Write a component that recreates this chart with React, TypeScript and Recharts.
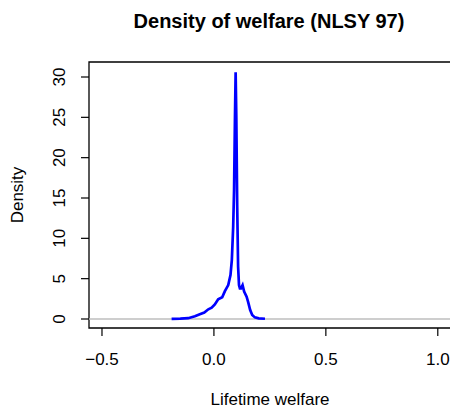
import React from 'react';
import {
  LineChart,
  Line,
  XAxis,
  YAxis,
  ReferenceLine,
  ReferenceArea,
} from 'recharts';

// kernel density estimate of lifetime welfare
const welfare = [
  -0.189, -0.15, -0.115, -0.085, -0.063, -0.043, -0.025, -0.01, 0.004, 0.019,
  0.037, 0.049, 0.064, 0.074, 0.08, 0.086, 0.09, 0.094, 0.097, 0.1, 0.104,
  0.108, 0.112, 0.116, 0.121, 0.128, 0.135, 0.146, 0.153, 0.162, 0.171, 0.183,
  0.2, 0.228,
];
const density = [
  0.02, 0.05, 0.1, 0.35, 0.6, 0.8, 1.2, 1.4, 1.8, 2.45,
  2.7, 3.45, 4.2, 5.45, 7.3, 11.4, 16, 25, 30.6, 25, 14,
  6.5, 4.2, 3.8, 3.8, 4.2, 3.4, 2.76, 2.1, 1.1, 0.5, 0.2,
  0.08, 0.03,
];

const xTicks = [-0.5, 0, 0.5, 1];
const yTicks = [0, 5, 10, 15, 20, 25, 30];
const xDomain: [number, number] = [-0.558, 1.059];
const yDomain: [number, number] = [-1.116, 31.86];

const data = welfare.map((x, i) => ({ x, d: density[i] }));

const font = '"Liberation Sans", Arial, sans-serif';

const fmt = (v: number) => (v < 0 ? '\u2212' + Math.abs(v).toFixed(1) : v.toFixed(1));

function XTick({ x, y, payload }: any) {
  return (
    <text x={x} y={y + 27} textAnchor="middle" fontSize={17} fontFamily={font} fill="#000">
      {fmt(payload.value)}
    </text>
  );
}

function YTick({ y, payload }: any) {
  return (
    <text
      transform={`translate(65, ${y}) rotate(-90)`}
      textAnchor="middle"
      fontSize={17}
      fontFamily={font}
      fill="#000"
    >
      {payload.value}
    </text>
  );
}

export default function App() {
  return (
    <div
      style={{
        position: 'absolute',
        left: 0,
        top: 0,
        width: 450,
        height: 408,
        overflow: 'hidden',
        background: '#fff',
      }}
    >
      <LineChart width={460} height={408} data={data} margin={{ top: 62, right: 9, bottom: 0, left: 0 }}>
        <XAxis
          dataKey="x"
          type="number"
          domain={xDomain}
          allowDataOverflow
          ticks={xTicks}
          height={80}
          axisLine={false}
          tickSize={8}
          tickLine={{ stroke: '#000', strokeWidth: 1.2 }}
          tick={<XTick />}
        />
        <YAxis
          type="number"
          domain={yDomain}
          allowDataOverflow
          ticks={yTicks}
          width={89}
          axisLine={false}
          tickSize={8}
          tickLine={{ stroke: '#000', strokeWidth: 1.2 }}
          tick={<YTick />}
        />
        <ReferenceLine y={0} stroke="#bebebe" strokeWidth={1.4} />
        <ReferenceArea
          x1={xDomain[0]}
          x2={xDomain[1]}
          y1={yDomain[0]}
          y2={yDomain[1]}
          fill="none"
          stroke="#000"
          strokeWidth={1.3}
          ifOverflow="visible"
        />
        <Line
          type="linear"
          dataKey="d"
          stroke="#0000ff"
          strokeWidth={2.7}
          dot={false}
          isAnimationActive={false}
        />
        <text x={269} y={28} textAnchor="middle" fontSize={20} fontWeight="bold" fontFamily={font}>
          Density of welfare (NLSY 97)
        </text>
        <text x={270} y={405} textAnchor="middle" fontSize={17} fontFamily={font}>
          Lifetime welfare
        </text>
        <text
          transform="translate(23, 195) rotate(-90)"
          textAnchor="middle"
          fontSize={17}
          fontFamily={font}
        >
          Density
        </text>
      </LineChart>
    </div>
  );
}
